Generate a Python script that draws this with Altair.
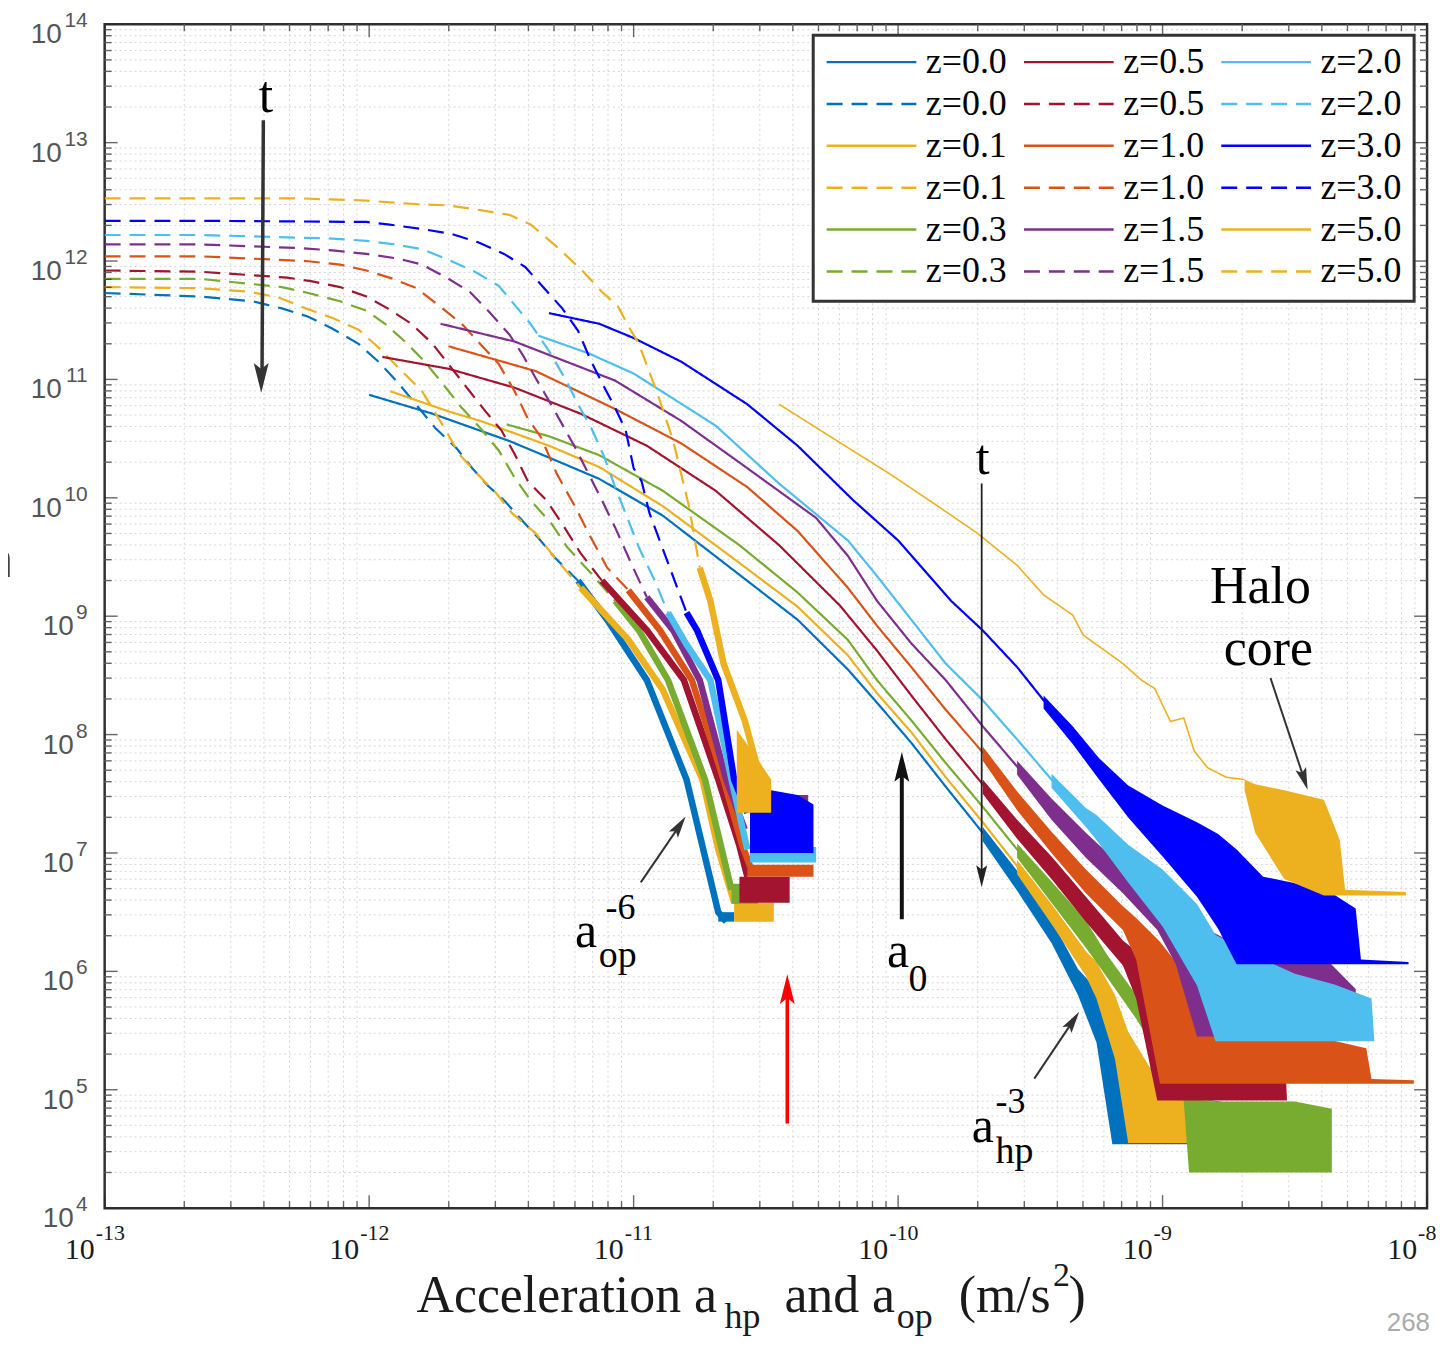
import altair as alt
import pandas as pd

# ---------------- axes: ticks and tick labels ----------------
X_DECADES = [1e-13, 1e-12, 1e-11, 1e-10, 1e-9, 1e-8]
Y_DECADES = [1e4, 1e5, 1e6, 1e7, 1e8, 1e9, 1e10, 1e11, 1e12, 1e13, 1e14]
TICK_BASE = "10"
X_TICK_EXPONENTS = ["-13", "-12", "-11", "-10", "-9", "-8"]
Y_TICK_EXPONENTS = ["4", "5", "6", "7", "8", "9", "10", "11", "12", "13", "14"]
MINOR_STEPS = [2, 3, 4, 5, 6, 7, 8, 9]

Z_LABELS = ["0.0", "0.1", "0.3", "0.5", "1.0", "1.5", "2.0", "3.0", "5.0"]
Z_COLORS = ["#0072BD", "#EDB120", "#77AC30", "#A2142F", "#D95319",
            "#7E2F8E", "#4DBEEE", "#0000FF", "#EDB120"]

# ---------------- series (log10 acceleration, log10 count) ----------------
# a_hp (solid) curves
HP_Z00_LX = [-12.00, -11.76, -11.47, -11.32, -11.13, -10.89, -10.60, -10.38, -10.19, -10.08, -9.95, -9.82, -9.68, -9.55, -9.42]
HP_Z00_LY = [10.87, 10.71, 10.48, 10.34, 10.16, 9.85, 9.35, 8.97, 8.55, 8.27, 7.93, 7.56, 7.17, 6.78, 6.36]
HP_Z01_LX = [-11.92, -11.70, -11.58, -11.32, -11.13, -10.89, -10.60, -10.38, -10.19, -10.08, -9.95, -9.82, -9.68, -9.55, -9.42, -9.29]
HP_Z01_LY = [10.90, 10.73, 10.65, 10.44, 10.26, 9.93, 9.45, 9.08, 8.67, 8.35, 8.02, 7.64, 7.26, 6.89, 6.50, 6.10]
HP_Z03_LX = [-11.48, -11.32, -11.13, -10.89, -10.60, -10.38, -10.19, -10.08, -9.95, -9.82, -9.68, -9.55, -9.42, -9.29]
HP_Z03_LY = [10.62, 10.52, 10.36, 10.06, 9.60, 9.20, 8.80, 8.46, 8.12, 7.76, 7.39, 7.03, 6.69, 6.36]
HP_Z05_LX = [-11.95, -11.70, -11.45, -11.20, -10.95, -10.69, -10.45, -10.22, -10.08, -9.95, -9.82, -9.68, -9.55, -9.42, -9.29, -9.15]
HP_Z05_LY = [11.19, 11.09, 10.93, 10.71, 10.44, 10.06, 9.60, 9.09, 8.71, 8.33, 7.96, 7.58, 7.22, 6.89, 6.55, 6.19]
HP_Z10_LX = [-11.70, -11.37, -11.07, -10.82, -10.57, -10.38, -10.19, -10.08, -9.95, -9.82, -9.68, -9.55, -9.42, -9.29, -9.15]
HP_Z10_LY = [11.28, 11.07, 10.75, 10.46, 10.09, 9.72, 9.24, 8.92, 8.57, 8.21, 7.85, 7.45, 7.11, 6.78, 6.47]
HP_Z15_LX = [-11.73, -11.45, -11.07, -10.82, -10.57, -10.31, -10.19, -10.08, -9.95, -9.82, -9.68, -9.55, -9.42, -9.29, -9.15, -9.02]
HP_Z15_LY = [11.47, 11.32, 10.99, 10.65, 10.25, 9.83, 9.51, 9.13, 8.77, 8.46, 8.07, 7.73, 7.39, 7.09, 6.80, 6.50]
HP_Z20_LX = [-11.36, -11.17, -11.00, -10.69, -10.45, -10.19, -10.08, -9.95, -9.82, -9.68, -9.55, -9.42, -9.29, -9.25]
HP_Z20_LY = [11.37, 11.22, 11.05, 10.61, 10.12, 9.64, 9.34, 8.97, 8.60, 8.29, 7.96, 7.62, 7.31, 7.24]
HP_Z30_LX = [-11.32, -11.13, -11.00, -10.82, -10.57, -10.38, -10.17, -10.00, -9.80, -9.68, -9.55, -9.45, -9.34, -9.24]
HP_Z30_LY = [11.56, 11.47, 11.35, 11.15, 10.79, 10.44, 9.98, 9.64, 9.13, 8.88, 8.57, 8.29, 8.01, 7.73]
HP_Z50_LX = [-10.45, -10.23, -10.03, -9.85, -9.70, -9.55, -9.45, -9.34, -9.30, -9.25, -9.15, -9.08, -9.03, -8.97, -8.92, -8.88, -8.83, -8.76, -8.69]
HP_Z50_LY = [10.79, 10.48, 10.20, 9.93, 9.70, 9.43, 9.18, 9.01, 8.84, 8.76, 8.60, 8.46, 8.39, 8.11, 8.14, 7.86, 7.72, 7.64, 7.62]

# noisy a_hp tails (x, upper envelope, lower envelope)
TL_Z00_LX = [-9.68, -9.55, -9.42, -9.32, -9.25, -9.19, -9.10, -8.87, -8.61, -8.37]
TL_Z00_TOP = [7.22, 6.85, 6.43, 6.02, 5.85, 5.55, 5.26, 4.93, 4.84, 4.76]
TL_Z00_BOT = [7.10, 6.68, 6.24, 5.80, 5.40, 4.54, 4.54, 4.54, 4.54, 4.54]
TL_Z01_LX = [-9.55, -9.42, -9.29, -9.25, -9.18, -9.13, -9.00, -8.87, -8.57]
TL_Z01_TOP = [6.94, 6.57, 6.17, 6.08, 5.80, 5.49, 5.01, 4.93, 4.80]
TL_Z01_BOT = [6.82, 6.40, 5.96, 5.77, 5.26, 4.55, 4.55, 4.55, 4.55]
TL_Z03_LX = [-9.55, -9.42, -9.29, -9.21, -9.10, -8.99, -8.92, -8.90, -8.82, -8.50, -8.36]
TL_Z03_TOP = [7.08, 6.76, 6.43, 6.14, 5.80, 5.45, 5.12, 4.93, 4.90, 4.90, 4.84]
TL_Z03_BOT = [6.96, 6.58, 6.20, 5.95, 5.60, 5.20, 4.90, 4.30, 4.30, 4.30, 4.30]
TL_Z05_LX = [-9.68, -9.55, -9.42, -9.29, -9.15, -9.10, -9.02, -8.87, -8.54, -8.53]
TL_Z05_TOP = [7.62, 7.28, 6.97, 6.63, 6.26, 6.17, 5.98, 5.77, 5.43, 4.93]
TL_Z05_BOT = [7.50, 7.12, 6.78, 6.42, 6.05, 5.77, 4.91, 4.91, 4.91, 4.91]
TL_Z10_LX = [-9.68, -9.55, -9.42, -9.29, -9.15, -9.10, -9.01, -8.87, -8.54, -8.23, -8.21, -8.05]
TL_Z10_TOP = [7.90, 7.52, 7.18, 6.86, 6.55, 6.45, 6.25, 5.85, 5.51, 5.35, 5.09, 5.08]
TL_Z10_BOT = [7.78, 7.36, 7.00, 6.66, 6.35, 6.10, 5.05, 5.05, 5.05, 5.05, 5.05, 5.05]
TL_Z15_LX = [-9.55, -9.42, -9.29, -9.15, -9.02, -8.95, -8.87, -8.69, -8.38, -8.27, -8.26]
TL_Z15_TOP = [7.78, 7.46, 7.17, 6.88, 6.60, 6.52, 6.40, 6.19, 6.10, 5.85, 5.47]
TL_Z15_BOT = [7.66, 7.28, 6.96, 6.66, 6.35, 6.06, 5.45, 5.45, 5.45, 5.45, 5.45]
TL_Z20_LX = [-9.42, -9.29, -9.25, -9.13, -9.00, -8.87, -8.80, -8.62, -8.50, -8.35, -8.21, -8.20]
TL_Z20_TOP = [7.67, 7.38, 7.32, 7.07, 6.86, 6.57, 6.31, 6.10, 5.98, 5.89, 5.77, 5.43]
TL_Z20_BOT = [7.55, 7.22, 7.11, 6.75, 6.38, 5.88, 5.41, 5.41, 5.41, 5.41, 5.41, 5.41]
TL_Z30_LX = [-9.45, -9.34, -9.24, -9.13, -9.00, -8.87, -8.79, -8.72, -8.62, -8.38, -8.27, -8.25, -8.07]
TL_Z30_TOP = [8.33, 8.07, 7.80, 7.57, 7.40, 7.26, 7.16, 7.03, 6.80, 6.69, 6.53, 6.10, 6.08]
TL_Z30_BOT = [8.22, 7.92, 7.62, 7.30, 6.97, 6.63, 6.36, 6.06, 6.06, 6.06, 6.06, 6.06, 6.06]
TL_Z50_LX = [-8.69, -8.65, -8.54, -8.39, -8.33, -8.31, -8.08]
TL_Z50_TOP = [7.62, 7.58, 7.53, 7.45, 7.11, 6.69, 6.67]
TL_Z50_BOT = [7.53, 7.17, 6.78, 6.64, 6.64, 6.64, 6.64]

# a_op (dashed) curves
OP_Z00_LX = [-13.00, -12.64, -12.44, -12.33, -12.23, -12.14, -12.04, -11.96, -11.89, -11.75, -11.67, -11.61, -11.55, -11.49, -11.43, -11.36, -11.30, -11.21]
OP_Z00_LY = [11.73, 11.70, 11.66, 11.60, 11.53, 11.43, 11.30, 11.14, 10.97, 10.59, 10.42, 10.25, 10.10, 9.98, 9.83, 9.66, 9.50, 9.30]
OP_Z01_LX = [-13.00, -12.64, -12.45, -12.34, -12.24, -12.14, -12.04, -11.96, -11.89, -11.80, -11.71, -11.66, -11.59, -11.52, -11.46, -11.37, -11.30, -11.20]
OP_Z01_LY = [11.78, 11.77, 11.74, 11.69, 11.60, 11.52, 11.42, 11.26, 11.10, 10.90, 10.57, 10.37, 10.20, 10.04, 9.87, 9.70, 9.50, 9.24]
OP_Z03_LX = [-13.00, -12.64, -12.33, -12.23, -12.11, -12.01, -11.94, -11.86, -11.79, -11.71, -11.65, -11.58, -11.51, -11.45, -11.39, -11.31, -11.25, -11.16, -11.07]
OP_Z03_LY = [11.85, 11.85, 11.78, 11.73, 11.66, 11.58, 11.47, 11.31, 11.15, 10.93, 10.76, 10.59, 10.40, 10.17, 9.98, 9.78, 9.58, 9.36, 9.13]
OP_Z05_LX = [-13.00, -12.64, -12.31, -12.22, -12.11, -12.01, -11.93, -11.84, -11.76, -11.69, -11.62, -11.56, -11.50, -11.45, -11.40, -11.33, -11.27, -11.20, -11.12]
OP_Z05_LY = [11.92, 11.91, 11.86, 11.83, 11.78, 11.70, 11.60, 11.47, 11.30, 11.10, 10.90, 10.73, 10.57, 10.37, 10.14, 9.98, 9.78, 9.53, 9.30]
OP_Z10_LX = [-13.00, -12.64, -12.24, -12.11, -12.01, -11.91, -11.82, -11.74, -11.65, -11.58, -11.51, -11.45, -11.40, -11.35, -11.29, -11.22, -11.17, -11.10, -11.02]
OP_Z10_LY = [12.04, 12.04, 12.00, 11.97, 11.92, 11.85, 11.77, 11.63, 11.47, 11.30, 11.13, 10.90, 10.67, 10.51, 10.20, 9.92, 9.70, 9.41, 9.22]
OP_Z15_LX = [-13.00, -12.64, -12.27, -12.14, -12.01, -11.89, -11.80, -11.70, -11.62, -11.55, -11.47, -11.42, -11.37, -11.32, -11.27, -11.22, -11.17, -11.12, -11.07, -11.01, -10.95]
OP_Z15_LY = [12.14, 12.14, 12.11, 12.09, 12.06, 12.02, 11.97, 11.85, 11.74, 11.58, 11.38, 11.21, 11.01, 10.82, 10.62, 10.42, 10.20, 9.98, 9.75, 9.45, 9.16]
OP_Z20_LX = [-13.00, -12.64, -12.14, -12.01, -11.90, -11.80, -11.70, -11.60, -11.51, -11.45, -11.39, -11.32, -11.26, -11.21, -11.16, -11.11, -11.07, -11.02, -10.98, -10.92, -10.87]
OP_Z20_LY = [12.22, 12.22, 12.19, 12.17, 12.14, 12.10, 12.01, 11.91, 11.79, 11.63, 11.47, 11.24, 11.01, 10.79, 10.59, 10.34, 10.09, 9.81, 9.58, 9.30, 9.03]
OP_Z30_LX = [-13.00, -12.64, -12.01, -11.93, -11.80, -11.69, -11.59, -11.49, -11.41, -11.35, -11.27, -11.21, -11.16, -11.11, -11.07, -11.03, -11.00, -10.97, -10.94, -10.87, -10.80]
OP_Z30_LY = [12.34, 12.34, 12.33, 12.31, 12.27, 12.23, 12.16, 12.06, 11.95, 11.80, 11.60, 11.41, 11.15, 10.93, 10.76, 10.57, 10.25, 10.14, 9.87, 9.45, 9.03]
OP_Z50_LX = [-13.00, -12.27, -12.01, -11.82, -11.70, -11.58, -11.47, -11.39, -11.29, -11.19, -11.12, -11.06, -11.02, -10.98, -10.91, -10.85, -10.79, -10.75]
OP_Z50_LY = [12.53, 12.53, 12.51, 12.48, 12.47, 12.43, 12.39, 12.31, 12.12, 11.91, 11.74, 11.62, 11.45, 11.30, 10.88, 10.48, 9.92, 9.41]

# dense (noisy) lower part of the a_op curves
TK_Z00_LX = [-11.21, -11.10, -10.95, -10.80, -10.74, -10.68, -10.65]
TK_Z00_LY = [9.30, 8.97, 8.46, 7.62, 7.06, 6.50, 6.42]
TK_Z01_LX = [-11.20, -11.02, -10.89, -10.74, -10.68, -10.62]
TK_Z01_LY = [9.24, 8.80, 8.38, 7.62, 7.03, 6.58]
TK_Z03_LX = [-11.07, -10.98, -10.87, -10.73, -10.67, -10.63]
TK_Z03_LY = [9.13, 8.88, 8.46, 7.62, 7.06, 6.69]
TK_Z05_LX = [-11.12, -10.95, -10.81, -10.68, -10.60, -10.57]
TK_Z05_LY = [9.30, 8.88, 8.46, 7.62, 7.06, 6.80]
TK_Z10_LX = [-11.02, -10.90, -10.78, -10.66, -10.59, -10.56]
TK_Z10_LY = [9.22, 8.88, 8.46, 7.62, 7.07, 6.89]
TK_Z15_LX = [-10.95, -10.85, -10.75, -10.65, -10.58]
TK_Z15_LY = [9.16, 8.88, 8.46, 7.62, 7.20]
TK_Z20_LX = [-10.87, -10.80, -10.71, -10.63, -10.57]
TK_Z20_LY = [9.03, 8.76, 8.46, 7.62, 7.03]
TK_Z30_LX = [-10.80, -10.76, -10.68, -10.62, -10.57]
TK_Z30_LY = [9.03, 8.88, 8.46, 7.62, 7.34]
TK_Z50_LX = [-10.75, -10.71, -10.66, -10.58, -10.54, -10.51]
TK_Z50_LY = [9.41, 9.13, 8.60, 8.12, 7.79, 7.53]

# a_op floors (x, upper, lower)
FL_Z00_LX = [-10.68, -10.62]; FL_Z00_TOP = [6.50, 6.50]; FL_Z00_BOT = [6.42, 6.42]
FL_Z01_LX = [-10.62, -10.47]; FL_Z01_TOP = [6.58, 6.58]; FL_Z01_BOT = [6.42, 6.42]
FL_Z03_LX = [-10.63, -10.53]; FL_Z03_TOP = [6.74, 6.74]; FL_Z03_BOT = [6.57, 6.57]
FL_Z05_LX = [-10.60, -10.41]; FL_Z05_TOP = [6.80, 6.80]; FL_Z05_BOT = [6.58, 6.58]
FL_Z10_LX = [-10.57, -10.32]; FL_Z10_TOP = [6.90, 6.90]; FL_Z10_BOT = [6.80, 6.80]
FL_Z15_LX = [-10.53, -10.34]; FL_Z15_TOP = [7.49, 7.49]; FL_Z15_BOT = [7.07, 7.07]
FL_Z20_LX = [-10.56, -10.31]; FL_Z20_TOP = [7.05, 7.05]; FL_Z20_BOT = [6.92, 6.92]
FL_Z30_LX = [-10.56, -10.48, -10.38, -10.32]; FL_Z30_TOP = [7.34, 7.53, 7.49, 7.41]; FL_Z30_BOT = [7.00, 7.00, 7.00, 7.00]
FL_Z50_LX = [-10.61, -10.53, -10.48]; FL_Z50_TOP = [8.04, 7.79, 7.62]; FL_Z50_BOT = [7.34, 7.34, 7.34]

HP = {"0.0": (HP_Z00_LX, HP_Z00_LY), "0.1": (HP_Z01_LX, HP_Z01_LY), "0.3": (HP_Z03_LX, HP_Z03_LY),
      "0.5": (HP_Z05_LX, HP_Z05_LY), "1.0": (HP_Z10_LX, HP_Z10_LY), "1.5": (HP_Z15_LX, HP_Z15_LY),
      "2.0": (HP_Z20_LX, HP_Z20_LY), "3.0": (HP_Z30_LX, HP_Z30_LY), "5.0": (HP_Z50_LX, HP_Z50_LY)}
TL = {"0.0": (TL_Z00_LX, TL_Z00_TOP, TL_Z00_BOT), "0.1": (TL_Z01_LX, TL_Z01_TOP, TL_Z01_BOT),
      "0.3": (TL_Z03_LX, TL_Z03_TOP, TL_Z03_BOT), "0.5": (TL_Z05_LX, TL_Z05_TOP, TL_Z05_BOT),
      "1.0": (TL_Z10_LX, TL_Z10_TOP, TL_Z10_BOT), "1.5": (TL_Z15_LX, TL_Z15_TOP, TL_Z15_BOT),
      "2.0": (TL_Z20_LX, TL_Z20_TOP, TL_Z20_BOT), "3.0": (TL_Z30_LX, TL_Z30_TOP, TL_Z30_BOT),
      "5.0": (TL_Z50_LX, TL_Z50_TOP, TL_Z50_BOT)}
OP = {"0.0": (OP_Z00_LX, OP_Z00_LY), "0.1": (OP_Z01_LX, OP_Z01_LY), "0.3": (OP_Z03_LX, OP_Z03_LY),
      "0.5": (OP_Z05_LX, OP_Z05_LY), "1.0": (OP_Z10_LX, OP_Z10_LY), "1.5": (OP_Z15_LX, OP_Z15_LY),
      "2.0": (OP_Z20_LX, OP_Z20_LY), "3.0": (OP_Z30_LX, OP_Z30_LY), "5.0": (OP_Z50_LX, OP_Z50_LY)}
TK = {"0.0": (TK_Z00_LX, TK_Z00_LY), "0.1": (TK_Z01_LX, TK_Z01_LY), "0.3": (TK_Z03_LX, TK_Z03_LY),
      "0.5": (TK_Z05_LX, TK_Z05_LY), "1.0": (TK_Z10_LX, TK_Z10_LY), "1.5": (TK_Z15_LX, TK_Z15_LY),
      "2.0": (TK_Z20_LX, TK_Z20_LY), "3.0": (TK_Z30_LX, TK_Z30_LY), "5.0": (TK_Z50_LX, TK_Z50_LY)}
FL = {"0.0": (FL_Z00_LX, FL_Z00_TOP, FL_Z00_BOT), "0.1": (FL_Z01_LX, FL_Z01_TOP, FL_Z01_BOT),
      "0.3": (FL_Z03_LX, FL_Z03_TOP, FL_Z03_BOT), "0.5": (FL_Z05_LX, FL_Z05_TOP, FL_Z05_BOT),
      "1.0": (FL_Z10_LX, FL_Z10_TOP, FL_Z10_BOT), "1.5": (FL_Z15_LX, FL_Z15_TOP, FL_Z15_BOT),
      "2.0": (FL_Z20_LX, FL_Z20_TOP, FL_Z20_BOT), "3.0": (FL_Z30_LX, FL_Z30_TOP, FL_Z30_BOT),
      "5.0": (FL_Z50_LX, FL_Z50_TOP, FL_Z50_BOT)}

# ---------------- annotations (log10 positions) ----------------
BIG_TEXT = ["t", "t", "Halo", "core", "a", "a", "a"]
BIG_LX = [-12.39, -9.68, -8.63, -8.60, -10.00, -11.18, -9.68]
BIG_LY = [13.26, 10.20, 9.11, 8.59, 6.04, 6.21, 4.56]
BIG_SIZE = [52, 50, 52, 52, 50, 50, 50]
SMALL_TEXT = ["0", "-6", "op", "-3", "hp"]
SMALL_LX = [-9.925, -11.05, -11.06, -9.575, -9.56]
SMALL_LY = [5.83, 6.44, 6.04, 4.80, 4.38]
SMALL_SIZE = [38, 36, 38, 36, 38]

XTITLE_TEXT = ["Acceleration a", "hp", "and a", "op", "(m/s", "2", ")"]
XTITLE_LX = [-11.821, -10.656, -10.430, -10.005, -9.771, -9.414, -9.356]
XTITLE_LY = [3.125, 2.990, 3.125, 2.990, 3.125, 3.343, 3.125]
XTITLE_SIZE = [52, 36, 52, 36, 52, 34, 52]

ARROW_X1 = [-12.40, -9.684, -9.986, -10.973, -9.485, -8.592, -10.419]
ARROW_Y1 = [13.19, 10.12, 6.44, 6.752, 5.094, 8.478, 4.715]
ARROW_X2 = [-12.405, -9.684, -9.986, -10.829, -9.341, -8.466, -10.419]
ARROW_Y2 = [11.05, 6.83, 7.70, 7.223, 5.573, 7.633, 5.82]
ARROW_W = [3.5, 1.8, 4.0, 2.0, 2.0, 2.0, 3.5]
ARROW_C = ["#333333", "#222222", "#111111", "#333333", "#333333", "#333333", "#ff0000"]
HEAD_ANGLE = [180, 180, 0, 34, 34, 162, 0]
HEAD_SIZE = [1100, 600, 1100, 600, 600, 600, 1100]
HEAD_LX = [-12.408, -9.684, -9.986, -10.829, -9.341, -8.466, -10.419]
HEAD_LY = [11.026, 6.813, 7.714, 7.223, 5.573, 7.633, 5.837]

XS = alt.Scale(type="log", domain=[1e-13, 1e-8], nice=False)
YS = alt.Scale(type="log", domain=[1e4, 1e14], nice=False)

# legend keys in the order the legend columns are filled (top to bottom, then next column)
LEGEND_ORDER = [f"z={z}|{k}" for z in Z_LABELS for k in ("s", "d")]
LEGEND_COLORS = [c for c in Z_COLORS for _ in ("s", "d")]
LEGEND_DASH = [[1, 0] if k == "s" else [16, 9] for _ in Z_LABELS for k in ("s", "d")]

CS = alt.Scale(domain=LEGEND_ORDER, range=LEGEND_COLORS)
DS = alt.Scale(domain=LEGEND_ORDER, range=LEGEND_DASH)

LEG = alt.Legend(title=None, orient="none", legendX=711, legendY=11, columns=3,
                 symbolType="stroke", symbolSize=8100, symbolStrokeWidth=2.5,
                 clipHeight=30, rowPadding=6, columnPadding=15, labelOffset=8,
                 labelFont="Liberation Serif", labelFontSize=36, labelColor="black",
                 labelLimit=300, labelExpr="substring(datum.label, 0, 5)",
                 padding=12, fillColor="white", strokeColor="#333333")


def p10(v):
    return [10.0 ** a for a in v]


def line_df(key, lx, ly):
    return pd.DataFrame({"key": key, "x": p10(lx), "y": p10(ly), "o": list(range(len(lx)))})


def band_df(key, lx, top, bot):
    return pd.DataFrame({"key": key, "x": p10(lx), "y": p10(top), "y2": p10(bot)})


def XE(f="x"):
    return alt.X(f"{f}:Q", scale=XS, axis=None)


def YE(f="y"):
    return alt.Y(f"{f}:Q", scale=YS, axis=None)


x_axis = alt.Axis(values=X_DECADES, grid=True, gridColor="#d8d8d8", gridWidth=2,
                  ticks=False, domain=False, labels=False, title=None)
y_axis = alt.Axis(values=Y_DECADES, grid=True, gridColor="#d8d8d8", gridWidth=2,
                  ticks=False, domain=False, labels=False, title=None)

X_MINOR = [m * 10.0 ** d for d in range(-13, -8) for m in MINOR_STEPS]
Y_MINOR = [m * 10.0 ** d for d in range(4, 14) for m in MINOR_STEPS]

layers = []
layers.append(alt.Chart(pd.DataFrame({"v": X_MINOR})).mark_rule(
    color="#d6d6d6", strokeWidth=1, strokeDash=[2, 3]).encode(x=alt.X("v:Q", scale=XS, axis=x_axis)))
layers.append(alt.Chart(pd.DataFrame({"v": Y_MINOR})).mark_rule(
    color="#d6d6d6", strokeWidth=1, strokeDash=[2, 3]).encode(y=alt.Y("v:Q", scale=YS, axis=y_axis)))

first = True
for z in Z_LABELS:
    ks, kd = f"z={z}|s", f"z={z}|d"
    leg = LEG if first else None
    first = False
    hp_w = 1.6 if z == "5.0" else 2.2
    layers.append(alt.Chart(line_df(ks, *HP[z])).mark_line(strokeWidth=hp_w, clip=True).encode(
        x=XE(), y=YE(), order=alt.Order("o:Q"),
        color=alt.Color("key:N", scale=CS, legend=leg),
        strokeDash=alt.StrokeDash("key:N", scale=DS, legend=leg)))
    layers.append(alt.Chart(line_df(kd, *OP[z])).mark_line(strokeWidth=2.2, clip=True).encode(
        x=XE(), y=YE(), order=alt.Order("o:Q"),
        color=alt.Color("key:N", scale=CS, legend=None),
        strokeDash=alt.StrokeDash("key:N", scale=DS, legend=None)))
    layers.append(alt.Chart(line_df(kd, *TK[z])).mark_line(strokeWidth=6.5, clip=True).encode(
        x=XE(), y=YE(), order=alt.Order("o:Q"),
        color=alt.Color("key:N", scale=CS, legend=None)))
    layers.append(alt.Chart(band_df(ks, *TL[z])).mark_area(clip=True, opacity=1).encode(
        x=XE(), y=YE(), y2=alt.Y2("y2:Q"),
        color=alt.Color("key:N", scale=CS, legend=None)))
    layers.append(alt.Chart(band_df(kd, *FL[z])).mark_area(clip=True, opacity=1).encode(
        x=XE(), y=YE(), y2=alt.Y2("y2:Q"),
        color=alt.Color("key:N", scale=CS, legend=None)))

# inward ticks on all four sides
TICK_COLOR = "#262626"
for vals, size in ((Y_DECADES, 13), (Y_MINOR, 7)):
    df = pd.DataFrame({"v": vals})
    layers.append(alt.Chart(df).mark_tick(orient="horizontal", size=size, thickness=1.4,
                                          color=TICK_COLOR, xOffset=size / 2).encode(
        x=alt.datum(1e-13), y=YE("v")))
    layers.append(alt.Chart(df).mark_tick(orient="horizontal", size=size, thickness=1.4,
                                          color=TICK_COLOR, xOffset=-size / 2).encode(
        x=alt.datum(1e-8), y=YE("v")))
for vals, size in ((X_DECADES, 13), (X_MINOR, 7)):
    df = pd.DataFrame({"v": vals})
    layers.append(alt.Chart(df).mark_tick(orient="vertical", size=size, thickness=1.4,
                                          color=TICK_COLOR, yOffset=-size / 2).encode(
        x=XE("v"), y=alt.datum(1e4)))
    layers.append(alt.Chart(df).mark_tick(orient="vertical", size=size, thickness=1.4,
                                          color=TICK_COLOR, yOffset=size / 2).encode(
        x=XE("v"), y=alt.datum(1e14)))

# tick labels: base "10" plus a raised exponent
xb_df = pd.DataFrame({"v": X_DECADES, "t": [TICK_BASE] * len(X_DECADES)})
layers.append(alt.Chart(xb_df).mark_text(
    font="Liberation Serif", fontSize=30, color="#1a1a1a", align="right",
    baseline="alphabetic", dx=-10, dy=51).encode(x=XE("v"), y=alt.datum(1e4), text="t:N"))
xe_df = pd.DataFrame({"v": X_DECADES, "t": X_TICK_EXPONENTS})
layers.append(alt.Chart(xe_df).mark_text(
    font="Liberation Serif", fontSize=22, color="#1a1a1a", align="left",
    baseline="alphabetic", dx=-9, dy=32).encode(x=XE("v"), y=alt.datum(1e4), text="t:N"))

ye_df = pd.DataFrame({"v": Y_DECADES, "t": Y_TICK_EXPONENTS})
layers.append(alt.Chart(ye_df).mark_text(
    font="Liberation Sans", fontSize=21, color="#555555", align="right",
    baseline="alphabetic", dx=-17, dy=3).encode(x=alt.datum(1e-13), y=YE("v"), text="t:N"))
for ndig, dx in ((1, -31), (2, -43)):
    vals = [v for v, e in zip(Y_DECADES, Y_TICK_EXPONENTS) if len(e) == ndig]
    yb_df = pd.DataFrame({"v": vals, "t": [TICK_BASE] * len(vals)})
    layers.append(alt.Chart(yb_df).mark_text(
        font="Liberation Sans", fontSize=28, color="#555555", align="right",
        baseline="alphabetic", dx=dx, dy=19).encode(x=alt.datum(1e-13), y=YE("v"), text="t:N"))

# arrows
arrow_df = pd.DataFrame({"x": p10(ARROW_X1), "y": p10(ARROW_Y1), "x2": p10(ARROW_X2),
                         "y2": p10(ARROW_Y2), "w": ARROW_W, "c": ARROW_C})
layers.append(alt.Chart(arrow_df).mark_rule().encode(
    x=XE(), y=YE(), x2=alt.X2("x2:Q"), y2=alt.Y2("y2:Q"),
    strokeWidth=alt.StrokeWidth("w:Q", scale=None), stroke=alt.Stroke("c:N", scale=None)))
head_df = pd.DataFrame({"x": p10(HEAD_LX), "y": p10(HEAD_LY), "a": HEAD_ANGLE,
                        "s": HEAD_SIZE, "c": ARROW_C})
layers.append(alt.Chart(head_df).mark_point(
    shape="M0,-1L0.45,0.8L0,0.45L-0.45,0.8Z", filled=True, opacity=1, strokeWidth=0).encode(
    x=XE(), y=YE(), angle=alt.Angle("a:Q", scale=None), size=alt.Size("s:Q", scale=None),
    fill=alt.Fill("c:N", scale=None)))

# annotation texts
ann_df = pd.DataFrame({"x": p10(BIG_LX + SMALL_LX), "y": p10(BIG_LY + SMALL_LY),
                       "t": BIG_TEXT + SMALL_TEXT, "fs": BIG_SIZE + SMALL_SIZE})
layers.append(alt.Chart(ann_df).mark_text(font="Liberation Serif", align="center",
                                          baseline="alphabetic", color="black").encode(
    x=XE(), y=YE(), text="t:N", size=alt.Size("fs:Q", scale=None)))

xt_df = pd.DataFrame({"x": p10(XTITLE_LX), "y": p10(XTITLE_LY), "t": XTITLE_TEXT, "fs": XTITLE_SIZE})
layers.append(alt.Chart(xt_df).mark_text(font="Liberation Serif", align="left",
                                         baseline="alphabetic", color="#1a1a1a").encode(
    x=XE(), y=YE(), text="t:N", size=alt.Size("fs:Q", scale=None)))

# page number and clipped y-axis title fragment
misc_df = pd.DataFrame({"x": p10([-7.989, -13.347]), "y": p10([2.965, 9.328]),
                        "t": ["268", "n"], "fs": [26, 50], "c": ["#aaaaaa", "#444444"]})
layers.append(alt.Chart(misc_df).mark_text(font="Liberation Sans", align="right",
                                           baseline="alphabetic").encode(
    x=XE(), y=YE(), text="t:N", size=alt.Size("fs:Q", scale=None),
    fill=alt.Fill("c:N", scale=None)))

chart = alt.layer(*layers).properties(
    width=1327, height=1188,
    autosize=alt.AutoSizeParams(type="none"),
    padding={"left": 97, "top": 14, "right": 20, "bottom": 128},
).configure_view(stroke="#303030", strokeWidth=2.5).configure_legend(strokeWidth=3)

chart.save("out.html", embed_options={"renderer": "svg", "actions": False})
